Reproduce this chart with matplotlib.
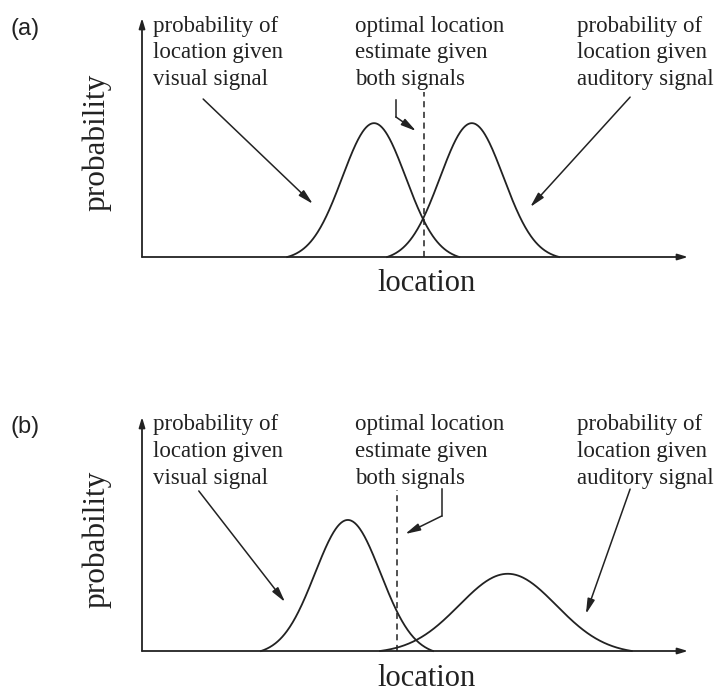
import matplotlib
matplotlib.use("Agg")
import matplotlib.pyplot as plt
import numpy as np

W, H = 715, 691
INK = "#222222"

# location axis runs 0..10, probability axis 0..1 in each panel
panels = ["(a)", "(b)"]

visual_mu = [4.25, 3.77]
visual_sigma = [0.58, 0.60]
visual_peak = [0.56, 0.56]
visual_span = [(2.66, 5.81), (2.18, 5.33)]

auditory_mu = [6.04, 6.70]
auditory_sigma = [0.58, 0.89]
auditory_peak = [0.56, 0.33]
auditory_span = [(4.49, 7.64), (4.36, 8.97)]

estimate = [5.17, 4.67]
estimate_top = [0.69, 0.69]

labels_visual = ["probability of", "location given", "visual signal"]
labels_optimal = ["optimal location", "estimate given", "both signals"]
labels_auditory = ["probability of", "location given", "auditory signal"]

# arrow endpoints (start, tip) in data units
visual_arrow = [((1.12, 0.661), (3.13, 0.222)), ((1.04, 0.684), (2.62, 0.209))]
auditory_arrow = [((8.94, 0.669), (7.11, 0.209)), ((8.94, 0.692), (8.13, 0.158))]
# bent arrow: start, corner, tip
optimal_arrow = [((4.65, 0.657), (4.65, 0.586), (5.02, 0.527)),
                 ((5.49, 0.692), (5.49, 0.577), (4.82, 0.50))]

# pixel layout of each panel (left, top, right, baseline)
boxes = [(142, 18, 688, 257), (142, 417, 688, 651)]
text_rows = [(32, 58, 85), (430, 457, 484)]

SERIF = "Liberation Serif"


def curve(mu, sigma, peak, span):
    x = np.linspace(span[0], span[1], 300)
    g = np.exp(-(x - mu) ** 2 / (2 * sigma ** 2))
    base = np.interp(x, span, [g[0], g[-1]])
    base_mu = np.interp(mu, span, [g[0], g[-1]])
    return x, peak * (g - base) / (1 - base_mu)


fig = plt.figure(figsize=(W / 100, H / 100), dpi=100)


def fx(px):
    return px / W


def fy(py):
    return 1 - py / H


for i, name in enumerate(panels):
    l, t, r, b = boxes[i]
    ax = fig.add_axes([fx(l), fy(b), (r - l) / W, (b - t) / H])
    ax.set_xlim(0, 10)
    ax.set_ylim(0, 1)
    ax.axis("off")

    axis_style = dict(arrowstyle="-|>,head_length=0.6,head_width=0.18", color=INK,
                      lw=1.3, shrinkA=0, shrinkB=0)
    ax.annotate("", xy=(0, 1), xytext=(0, 0), xycoords="axes fraction",
                arrowprops=axis_style, annotation_clip=False)
    ax.annotate("", xy=(1, 0), xytext=(0, 0), xycoords="axes fraction",
                arrowprops=axis_style, annotation_clip=False)

    for mu, sd, pk, sp in [(visual_mu[i], visual_sigma[i], visual_peak[i], visual_span[i]),
                           (auditory_mu[i], auditory_sigma[i], auditory_peak[i], auditory_span[i])]:
        x, y = curve(mu, sd, pk, sp)
        ax.plot(x, y, color=INK, lw=1.3, clip_on=False)

    ax.plot([estimate[i], estimate[i]], [0, estimate_top[i]], color=INK, lw=1.1,
            dashes=(4, 3))

    arrow_style = dict(arrowstyle="-|>,head_length=0.9,head_width=0.22", color=INK,
                       lw=1.1, shrinkA=0, shrinkB=0)
    for start, tip in [visual_arrow[i], auditory_arrow[i]]:
        ax.annotate("", xy=tip, xytext=start, arrowprops=arrow_style,
                    annotation_clip=False)
    s, c, tip = optimal_arrow[i]
    ax.plot([s[0], c[0]], [s[1], c[1]], color=INK, lw=1.1, clip_on=False)
    ax.annotate("", xy=tip, xytext=c, arrowprops=arrow_style, annotation_clip=False)

    rows = text_rows[i]
    for left, lines in [(153, labels_visual), (355, labels_optimal), (577, labels_auditory)]:
        for row, line in zip(rows, lines):
            fig.text(fx(left), fy(row), line, family=SERIF, fontsize=16.5,
                     color=INK, ha="left", va="baseline")

    fig.text(fx(11), fy(rows[0] + 3), name, family="Liberation Sans", fontsize=17,
             color=INK, ha="left", va="baseline")
    fig.text(fx(97), fy((t + b) / 2 + 5), "probability", family=SERIF, fontsize=22.5,
             color=INK, rotation=90, ha="center", va="center")
    fig.text(fx(426), fy(b + 27), "location", family=SERIF, fontsize=22,
             color=INK, ha="center", va="center")

fig.savefig("out.png", dpi=100, facecolor="white")
